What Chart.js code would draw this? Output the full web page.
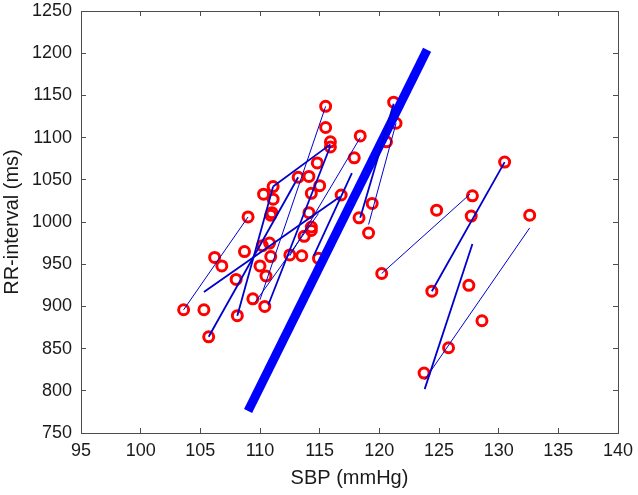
<!DOCTYPE html>
<html>
<head>
<meta charset="utf-8">
<script src="https://cdn.jsdelivr.net/npm/chart.js@4.4.1/dist/chart.umd.min.js"></script>
<style>
  html, body { margin: 0; padding: 0; background: #fff; }
  #wrap { width: 638px; height: 495px; }
</style>
</head>
<body>
<div id="wrap"><canvas id="rrChart"></canvas></div>
<script>
// measured beats (SBP mmHg, RR ms)
const sbp = [
  103.6, 105.3, 105.7, 106.2, 106.8, 108.0, 108.1, 108.7, 109.0, 109.4,
  110.0, 110.2, 110.3, 110.5, 110.4, 110.8, 110.9, 110.9, 111.0, 111.1,
  111.1, 112.5, 113.2, 113.5, 113.7, 114.1, 114.1, 114.3, 114.3, 114.3,
  114.8, 115.0, 114.9, 115.5, 115.5, 115.9, 115.9, 116.8, 117.9, 118.4,
  118.3, 119.1, 119.4, 120.2, 120.6, 121.2, 121.4,
  124.8, 124.4, 123.75, 125.8, 127.8, 127.7, 127.5, 128.6, 130.5, 132.6
];
const rr = [
  896, 896, 864, 958, 948, 932, 889, 965, 1006, 909,
  948, 972, 1033, 936, 900, 975, 959, 1008, 1011, 1042,
  1027, 961, 1053, 960, 983, 1011, 1054, 994, 990, 1034,
  1070, 1043, 957, 1137, 1112, 1095, 1089, 1032, 1076, 1102,
  1005, 987, 1022, 939, 1095, 1142, 1117,
  1014, 918, 821, 851, 1031, 1007, 925, 883, 1071, 1008
];

// per-subject regression lines [sbp1, rr1, sbp2, rr2]
const thinFits = [
  [103.6, 896, 109.0, 1006],
  [110.0, 908, 115.5, 1137],
  [109.6, 905, 114.9, 1010],
  [112.5, 960, 118.4, 1100],
  [119.1, 997, 121.4, 1117],
  [120.2, 939, 127.6, 1033],
  [132.6, 993, 123.8, 813]
];
const mediumFits = [
  [105.3, 917, 116.7, 1030],
  [105.7, 864, 113.2, 1053],
  [108.1, 889, 111.1, 1042],
  [111.1, 1042, 115.9, 1092],
  [110.7, 902, 115.9, 1090],
  [114.5, 960, 117.7, 1058],
  [118.4, 1005, 121.2, 1140],
  [124.4, 918, 130.5, 1071],
  [127.8, 974, 123.8, 802]
];
// pooled regression line
const overallFit = [109.0, 776, 124.0, 1204];

const xTicks = [95, 100, 105, 110, 115, 120, 125, 130, 135, 140];
const yTicks = [750, 800, 850, 900, 950, 1000, 1050, 1100, 1150, 1200, 1250];

const fontFam = "'Liberation Sans', Arial, sans-serif";
const axisGrey = "#4d4d4d";

function fitDataset(f, width, color) {
  return {
    type: "line",
    data: [{ x: f[0], y: f[1] }, { x: f[2], y: f[3] }],
    borderColor: color,
    borderWidth: width,
    pointRadius: 0,
    fill: false,
    order: 1,
  };
}

const datasets = [
  {
    type: "scatter",
    data: sbp.map((x, i) => ({ x: x, y: rr[i] })),
    pointRadius: 5,
    pointBorderWidth: 3,
    pointBorderColor: "#ff0000",
    pointBackgroundColor: "rgba(0,0,0,0)",
    order: 2,
  },
];
thinFits.forEach((f) => datasets.push(fitDataset(f, 1, "#0000cc")));
mediumFits.forEach((f) => datasets.push(fitDataset(f, 1.8, "#0000cc")));
datasets.push(fitDataset(overallFit, 9, "#0000ff"));

// tick marks pointing into the plot (negative length)
const inwardGrid = {
  display: true,
  drawOnChartArea: false,
  drawTicks: true,
  tickLength: -5,
  color: axisGrey,
  lineWidth: 1,
};
const boxBorder = { display: true, color: axisGrey, width: 1 };

function axisTicks(list) {
  return (s) => { s.ticks = list.map((v) => ({ value: v })); };
}
function fixSize(w, h) {
  return (s) => {
    if (w !== null) s.width = w;
    if (h !== null) s.height = h;
    s.paddingTop = 0; s.paddingBottom = 0;
    s.paddingLeft = 0; s.paddingRight = 0;
  };
}

new Chart(document.getElementById("rrChart"), {
  data: { datasets: datasets },
  options: {
    responsive: true,
    maintainAspectRatio: false,
    animation: false,
    layout: { padding: 0 },
    plugins: {
      legend: { display: false },
      tooltip: { enabled: false },
    },
    scales: {
      x: {
        type: "linear",
        position: "bottom",
        min: 95,
        max: 140,
        afterBuildTicks: axisTicks(xTicks),
        afterFit: fixSize(null, 62),
        grid: inwardGrid,
        border: boxBorder,
        ticks: {
          color: "#1a1a1a",
          padding: 12,
          font: { family: fontFam, size: 18 },
          callback: (v) => String(v),
        },
        title: {
          display: true,
          text: "SBP (mmHg)",
          color: "#1a1a1a",
          font: { family: fontFam, size: 20 },
          padding: { top: 0, bottom: 5 },
        },
      },
      x2: {
        type: "linear",
        axis: "x",
        position: "top",
        min: 95,
        max: 140,
        afterBuildTicks: axisTicks(xTicks),
        afterFit: fixSize(null, 11),
        grid: inwardGrid,
        border: boxBorder,
        ticks: { display: false },
      },
      y: {
        type: "linear",
        position: "left",
        min: 750,
        max: 1250,
        afterBuildTicks: axisTicks(yTicks),
        afterFit: fixSize(81, null),
        grid: inwardGrid,
        border: boxBorder,
        ticks: {
          color: "#1a1a1a",
          padding: 14,
          font: { family: fontFam, size: 18 },
          callback: (v) => String(v),
        },
        title: {
          display: true,
          text: "RR-interval (ms)",
          color: "#1a1a1a",
          font: { family: fontFam, size: 20 },
          padding: { top: 0, bottom: 0 },
        },
      },
      y2: {
        type: "linear",
        axis: "y",
        position: "right",
        min: 750,
        max: 1250,
        afterBuildTicks: axisTicks(yTicks),
        afterFit: fixSize(20, null),
        grid: inwardGrid,
        border: boxBorder,
        ticks: { display: false },
      },
    },
  },
});
</script>
</body>
</html>
